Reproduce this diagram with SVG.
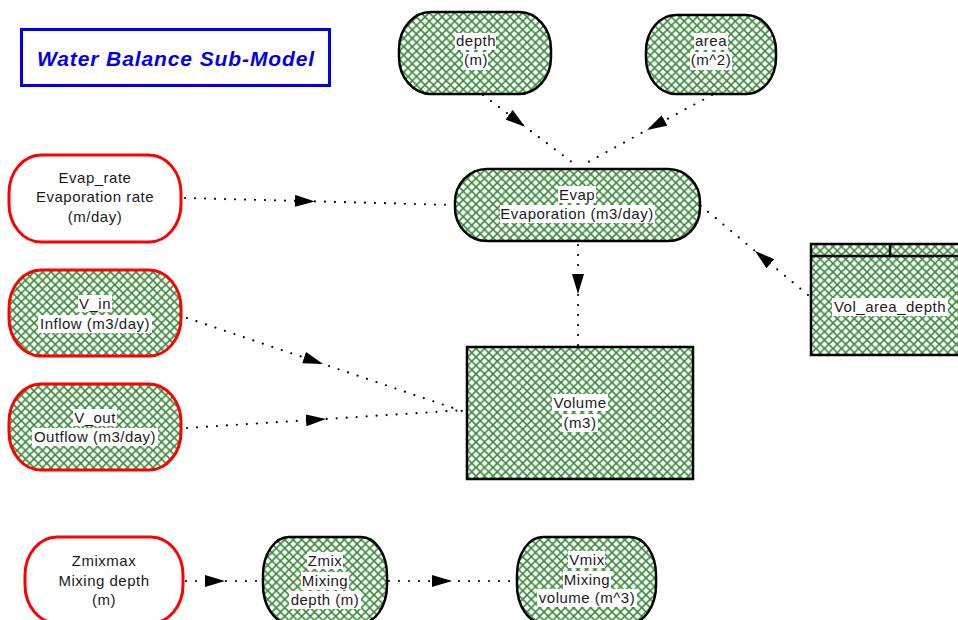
<svg xmlns="http://www.w3.org/2000/svg" width="958" height="620" viewBox="0 0 958 620">
<defs>
<pattern id="hatch" patternUnits="userSpaceOnUse" width="8.5" height="8.5">
<rect width="8.5" height="8.5" fill="#fff"/>
<path d="M0,0 L8.5,8.5 M8.5,0 L0,8.5" stroke="#3a8a3a" stroke-width="1.6" fill="none"/>
</pattern>
<marker id="arr" markerUnits="userSpaceOnUse" markerWidth="20" markerHeight="12" viewBox="0 0 20 12" refX="20" refY="6" orient="auto">
<path d="M0,0 L20,6 L0,12 z" fill="#000"/>
</marker>
<style>
.hn{fill:url(#hatch);stroke:#000;stroke-width:2.5}
.rn{fill:#fff;stroke:#f00;stroke-width:3}
.rh{fill:url(#hatch);stroke:#f00;stroke-width:3}
.t{font-family:"Liberation Sans",Arial,sans-serif;font-size:15px;letter-spacing:0.5px;fill:#1a1a1a;text-anchor:middle}
.bg{fill:#fff}
.c{fill:none;stroke:#000;stroke-width:2.2;stroke-linecap:round;stroke-dasharray:0 10;marker-mid:url(#arr)}
</style>
</defs>
<g id="title">
<rect x="21.5" y="29.5" width="308" height="56" fill="#fff" stroke="#0000ee" stroke-width="3"/>
<text x="176" y="66" font-family="'Liberation Sans',Arial,sans-serif" font-size="21" font-weight="bold" font-style="italic" letter-spacing="0.9" fill="#0000ee" text-anchor="middle">Water Balance Sub-Model</text>
</g>
<g id="connectors">
<path class="c" d="M483,95 L525,126.7 L577,166"/>
<path class="c" d="M712,95 L647,130 L581,166"/>
<path class="c" d="M185,198 L315,201.4 L454,205"/>
<path class="c" d="M578,245 L578,294 L578,346"/>
<path class="c" d="M808,295 L755,251 L700,205"/>
<path class="c" d="M187,318 L323,364 L465,412"/>
<path class="c" d="M187,428 L326,419 L465,410"/>
<path class="c" d="M186,581 L225,581 L263,581"/>
<path class="c" d="M389,581 L452,581 L516,581"/>
</g>
<g id="depth">
<rect class="hn" x="399" y="12" width="152" height="82" rx="32" ry="37"/>
<rect class="bg" x="455" y="33" width="41" height="17"/>
<rect class="bg" x="463" y="52" width="25" height="18"/>
<text class="t" x="476" y="46">depth</text>
<text class="t" x="476" y="65">(m)</text>
</g>
<g id="area">
<rect class="hn" x="646" y="15" width="130" height="79" rx="30" ry="36"/>
<rect class="bg" x="694" y="33" width="34" height="17"/>
<rect class="bg" x="690" y="52" width="42" height="18"/>
<text class="t" x="711" y="46">area</text>
<text class="t" x="711" y="65">(m^2)</text>
</g>
<g id="Evap">
<rect class="hn" x="455" y="169" width="245" height="72" rx="32" ry="33"/>
<rect class="bg" x="558" y="186" width="38" height="17"/>
<rect class="bg" x="500" y="205" width="155" height="18"/>
<text class="t" x="577" y="200">Evap</text>
<text class="t" x="577" y="219">Evaporation (m3/day)</text>
</g>
<g id="Evap_rate">
<rect class="rn" x="9" y="155" width="172" height="87" rx="32" ry="38"/>
<text class="t" x="95" y="183">Evap_rate</text>
<text class="t" x="95" y="202">Evaporation rate</text>
<text class="t" x="95" y="222">(m/day)</text>
</g>
<g id="V_in">
<rect class="rh" x="9" y="270" width="172" height="86" rx="32" ry="38"/>
<rect class="bg" x="78" y="295" width="34" height="17"/>
<rect class="bg" x="38" y="315" width="114" height="18"/>
<text class="t" x="95" y="309">V_in</text>
<text class="t" x="95" y="329">Inflow (m3/day)</text>
</g>
<g id="V_out">
<rect class="rh" x="9" y="384" width="172" height="86" rx="32" ry="38"/>
<rect class="bg" x="73" y="409" width="44" height="17"/>
<rect class="bg" x="32" y="428" width="126" height="18"/>
<text class="t" x="95" y="423">V_out</text>
<text class="t" x="95" y="442">Outflow (m3/day)</text>
</g>
<g id="Volume">
<rect class="hn" x="467" y="347" width="226" height="132"/>
<rect class="bg" x="552" y="394" width="56" height="17"/>
<rect class="bg" x="562" y="414" width="36" height="18"/>
<text class="t" x="580" y="408">Volume</text>
<text class="t" x="580" y="428">(m3)</text>
</g>
<g id="Vol_area_depth">
<rect class="hn" x="811" y="244" width="160" height="111"/>
<path d="M811,256 H971 M890,244 V256" stroke="#000" stroke-width="2.5" fill="none"/>
<rect class="bg" x="832" y="298" width="116" height="18"/>
<text class="t" x="890" y="312">Vol_area_depth</text>
</g>
<g id="Zmixmax">
<rect class="rn" x="25" y="537" width="158" height="86" rx="32" ry="38"/>
<text class="t" x="104" y="566">Zmixmax</text>
<text class="t" x="104" y="586">Mixing depth</text>
<text class="t" x="104" y="605">(m)</text>
</g>
<g id="Zmix">
<rect class="hn" x="263" y="537" width="124" height="86" rx="26" ry="38"/>
<rect class="bg" x="307" y="552" width="36" height="17"/>
<rect class="bg" x="301" y="572" width="48" height="18"/>
<rect class="bg" x="289" y="591" width="72" height="18"/>
<text class="t" x="325" y="566">Zmix</text>
<text class="t" x="325" y="586">Mixing</text>
<text class="t" x="325" y="605">depth (m)</text>
</g>
<g id="Vmix">
<rect class="hn" x="517" y="537" width="139" height="86" rx="26" ry="38"/>
<rect class="bg" x="568" y="551" width="37" height="17"/>
<rect class="bg" x="563" y="571" width="48" height="18"/>
<rect class="bg" x="537" y="589" width="100" height="18"/>
<text class="t" x="587" y="565">Vmix</text>
<text class="t" x="587" y="585">Mixing</text>
<text class="t" x="587" y="603">volume (m^3)</text>
</g>
</svg>
